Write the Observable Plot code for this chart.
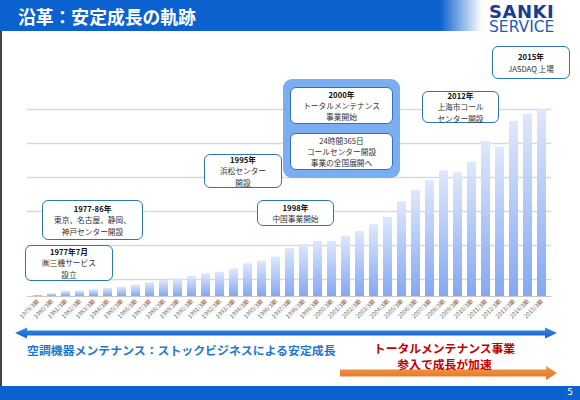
<!DOCTYPE html>
<html><head><meta charset="utf-8">
<script src="https://cdn.jsdelivr.net/npm/d3@7"></script>
<script src="https://cdn.jsdelivr.net/npm/@observablehq/plot@0.6"></script>
<style>
html,body{margin:0;padding:0;background:#fff;}
#wrap{position:relative;width:580px;height:400px;overflow:hidden;background:#fff;font-family:"Noto Sans CJK JP","Noto Sans",sans-serif;}
#header{position:absolute;left:0;top:0;width:580px;height:31px;background:linear-gradient(to right,#0b62cf 0,#0b62cf 440px,#ffffff 482px);}
#title{position:absolute;left:18px;top:4px;color:#fff;font-weight:bold;font-size:17.8px;line-height:24px;}
#logo{position:absolute;left:489px;top:4px;width:90px;font-family:"DejaVu Sans",sans-serif;font-size:15.5px;color:#1d5bbd;line-height:15px;white-space:pre-line;}
#logo::first-line{font-weight:900;font-size:18px;color:#1b3c8f;letter-spacing:0.5px;line-height:16px;}
#leftline{position:absolute;left:0;top:31px;width:2px;height:355px;background:#444;}
#footer{position:absolute;left:0;top:386px;width:580px;height:14px;background:#0b62cf;}
#pagenum{position:absolute;right:7px;top:385px;color:#fff;font-size:9px;line-height:15px;font-family:"DejaVu Sans",sans-serif;}
#chart{position:absolute;left:0;top:0;}
.box{position:absolute;box-sizing:border-box;background:#fff;border:1.6px solid #2e75b6;border-radius:6px;text-align:center;font-size:7.7px;color:#333;display:flex;flex-direction:column;justify-content:center;align-items:center;}
.box span{display:block;line-height:11.2px;height:11.2px;white-space:nowrap;flex:none;}
.box span.t{color:#111;font-weight:bold;}
#hl{position:absolute;left:283px;top:79px;width:117px;height:99px;background:#7aaef0;border-radius:9px;}
#txtBlue{position:absolute;left:27px;top:342px;color:#1f78cc;font-weight:bold;font-size:11.9px;line-height:16px;white-space:nowrap;}
#txtRed{position:absolute;left:362px;top:340px;width:165px;text-align:center;color:#c00000;font-weight:bold;font-size:11.8px;white-space:nowrap;}
#txtRed span{display:block;line-height:15.5px;height:15.5px;}
#deco{position:absolute;left:0;top:0;}
</style></head>
<body>
<div id="wrap">
  <div id="chart"></div>
  <div id="header"><div id="title">沿革：安定成長の軌跡</div></div>
  <div id="logo"></div>
  <div id="leftline"></div>
  <div id="hl"></div>
  <div id="notes"></div>
  <svg id="deco" width="580" height="400">
    <defs>
      <linearGradient id="blueArrow" x1="0" y1="0" x2="0" y2="1">
        <stop offset="0" stop-color="#3b8ce6"/><stop offset="1" stop-color="#0f5fc4"/>
      </linearGradient>
      <linearGradient id="orangeArrow" x1="0" y1="0" x2="0" y2="1">
        <stop offset="0" stop-color="#f59a4e"/><stop offset="1" stop-color="#e0701e"/>
      </linearGradient>
    </defs>
    <path d="M15,333 L27,327.5 L27,330.5 L545,330.5 L545,327.5 L557,333 L545,338.5 L545,335.5 L27,335.5 L27,338.5 Z" fill="url(#blueArrow)"/>
    <path d="M340,369.5 L546,369.5 L546,366 L557,373 L546,380 L546,376.5 L340,376.5 Z" fill="url(#orangeArrow)"/>
  </svg>
  <div id="txtBlue">空調機器メンテナンス：ストックビジネスによる安定成長</div>
  <div id="txtRed"><span>トータルメンテナンス事業</span><span>参入で成長が加速</span></div>
  <div id="footer"></div>
  <div id="pagenum">5</div>
</div>
<script>
// ---- data (arbitrary units, grid step = 10) ----
const years = [1979,1980,1981,1982,1983,1984,1985,1986,1987,1988,1989,1990,1991,1992,1993,1994,1995,1996,1997,1998,1999,2000,2001,2002,2003,2004,2005,2006,2007,2008,2009,2010,2011,2012,2013,2014,2015];
const values = [0.3,0.8,1.5,1.6,2.0,2.4,2.7,3.3,4.1,4.7,5.1,5.9,6.7,7.1,8.1,9.6,10.4,11.6,14.1,15.3,16.2,16.2,17.7,19.1,21.1,23.3,27.9,31.2,34.1,37.0,36.4,39.5,45.6,43.9,51.5,53.5,55.0];
const tickLabels = years.map(y => `${y}/3期`);
const gridValues = [5,15,25,35,45,55];

const notesData = [
  {title:"1977年7月", lines:["㈱三機サービス","設立"], left:25, top:245, w:88, h:36},
  {title:"1977-86年", lines:["東京、名古屋、静岡、","神戸センター開設"], left:42, top:200, w:101, h:40},
  {title:"1995年", lines:["浜松センター","開設"], left:204, top:154, w:78, h:34},
  {title:"2000年", lines:["トータルメンテナンス","事業開始"], left:290, top:87, w:103, h:37},
  {title:"", lines:["24時間365日","コールセンター開設","事業の全国展開へ"], left:290, top:133, w:103, h:37},
  {title:"1998年", lines:["中国事業開始"], left:257, top:200, w:77, h:26},
  {title:"2012年", lines:["上海市コール","センター開設"], left:422, top:91, w:77, h:32},
  {title:"2015年", lines:["JASDAQ 上場"], left:492, top:46, w:78, h:33}
];

document.getElementById("logo").textContent = "SANKI\nSERVICE";

const data = years.map((y,i) => ({year:y, value:values[i], label:tickLabels[i]}));

const chart = Plot.plot({
  width: 580,
  height: 330,
  marginTop: 109,
  marginBottom: 34,
  marginLeft: 26.75,
  marginRight: 28.7,
  style: {fontFamily: "'Noto Sans CJK JP', sans-serif", background: "transparent"},
  x: {type: "band", domain: years, padding: 0.36, label: null},
  y: {domain: [0, 55], axis: null},
  marks: [
    Plot.ruleY(gridValues, {stroke: "#d9d9d9", strokeWidth: 1.6}),
    Plot.barY(data, {x: "year", y: "value", fill: "url(#barGrad)"}),
    Plot.ruleY([0], {stroke: "#c8c8c8", strokeWidth: 1}),
    Plot.axisX({tickRotate: -45, tickSize: 0, tickPadding: 4, fontSize: 5.8, fill: "#666", label: null,
      tickFormat: (d) => tickLabels[years.indexOf(d)]})
  ]
});
const defs = d3.select(chart).insert("defs", ":first-child");
const g = defs.append("linearGradient").attr("id", "barGrad").attr("x1", 0).attr("y1", 0).attr("x2", 0).attr("y2", 1);
g.append("stop").attr("offset", 0).attr("stop-color", "#dfe8fb");
g.append("stop").attr("offset", 1).attr("stop-color", "#84a8f2");
document.getElementById("chart").appendChild(chart);

const notes = document.getElementById("notes");
for (const n of notesData) {
  const d = document.createElement("div");
  d.className = "box";
  d.style.left = n.left + "px"; d.style.top = n.top + "px";
  d.style.width = n.w + "px"; d.style.height = n.h + "px";
  let html = n.title ? `<span class="t">${n.title}</span>` : "";
  html += n.lines.map(l => `<span>${l}</span>`).join("");
  d.innerHTML = html;
  notes.appendChild(d);
}
</script>
</body></html>
